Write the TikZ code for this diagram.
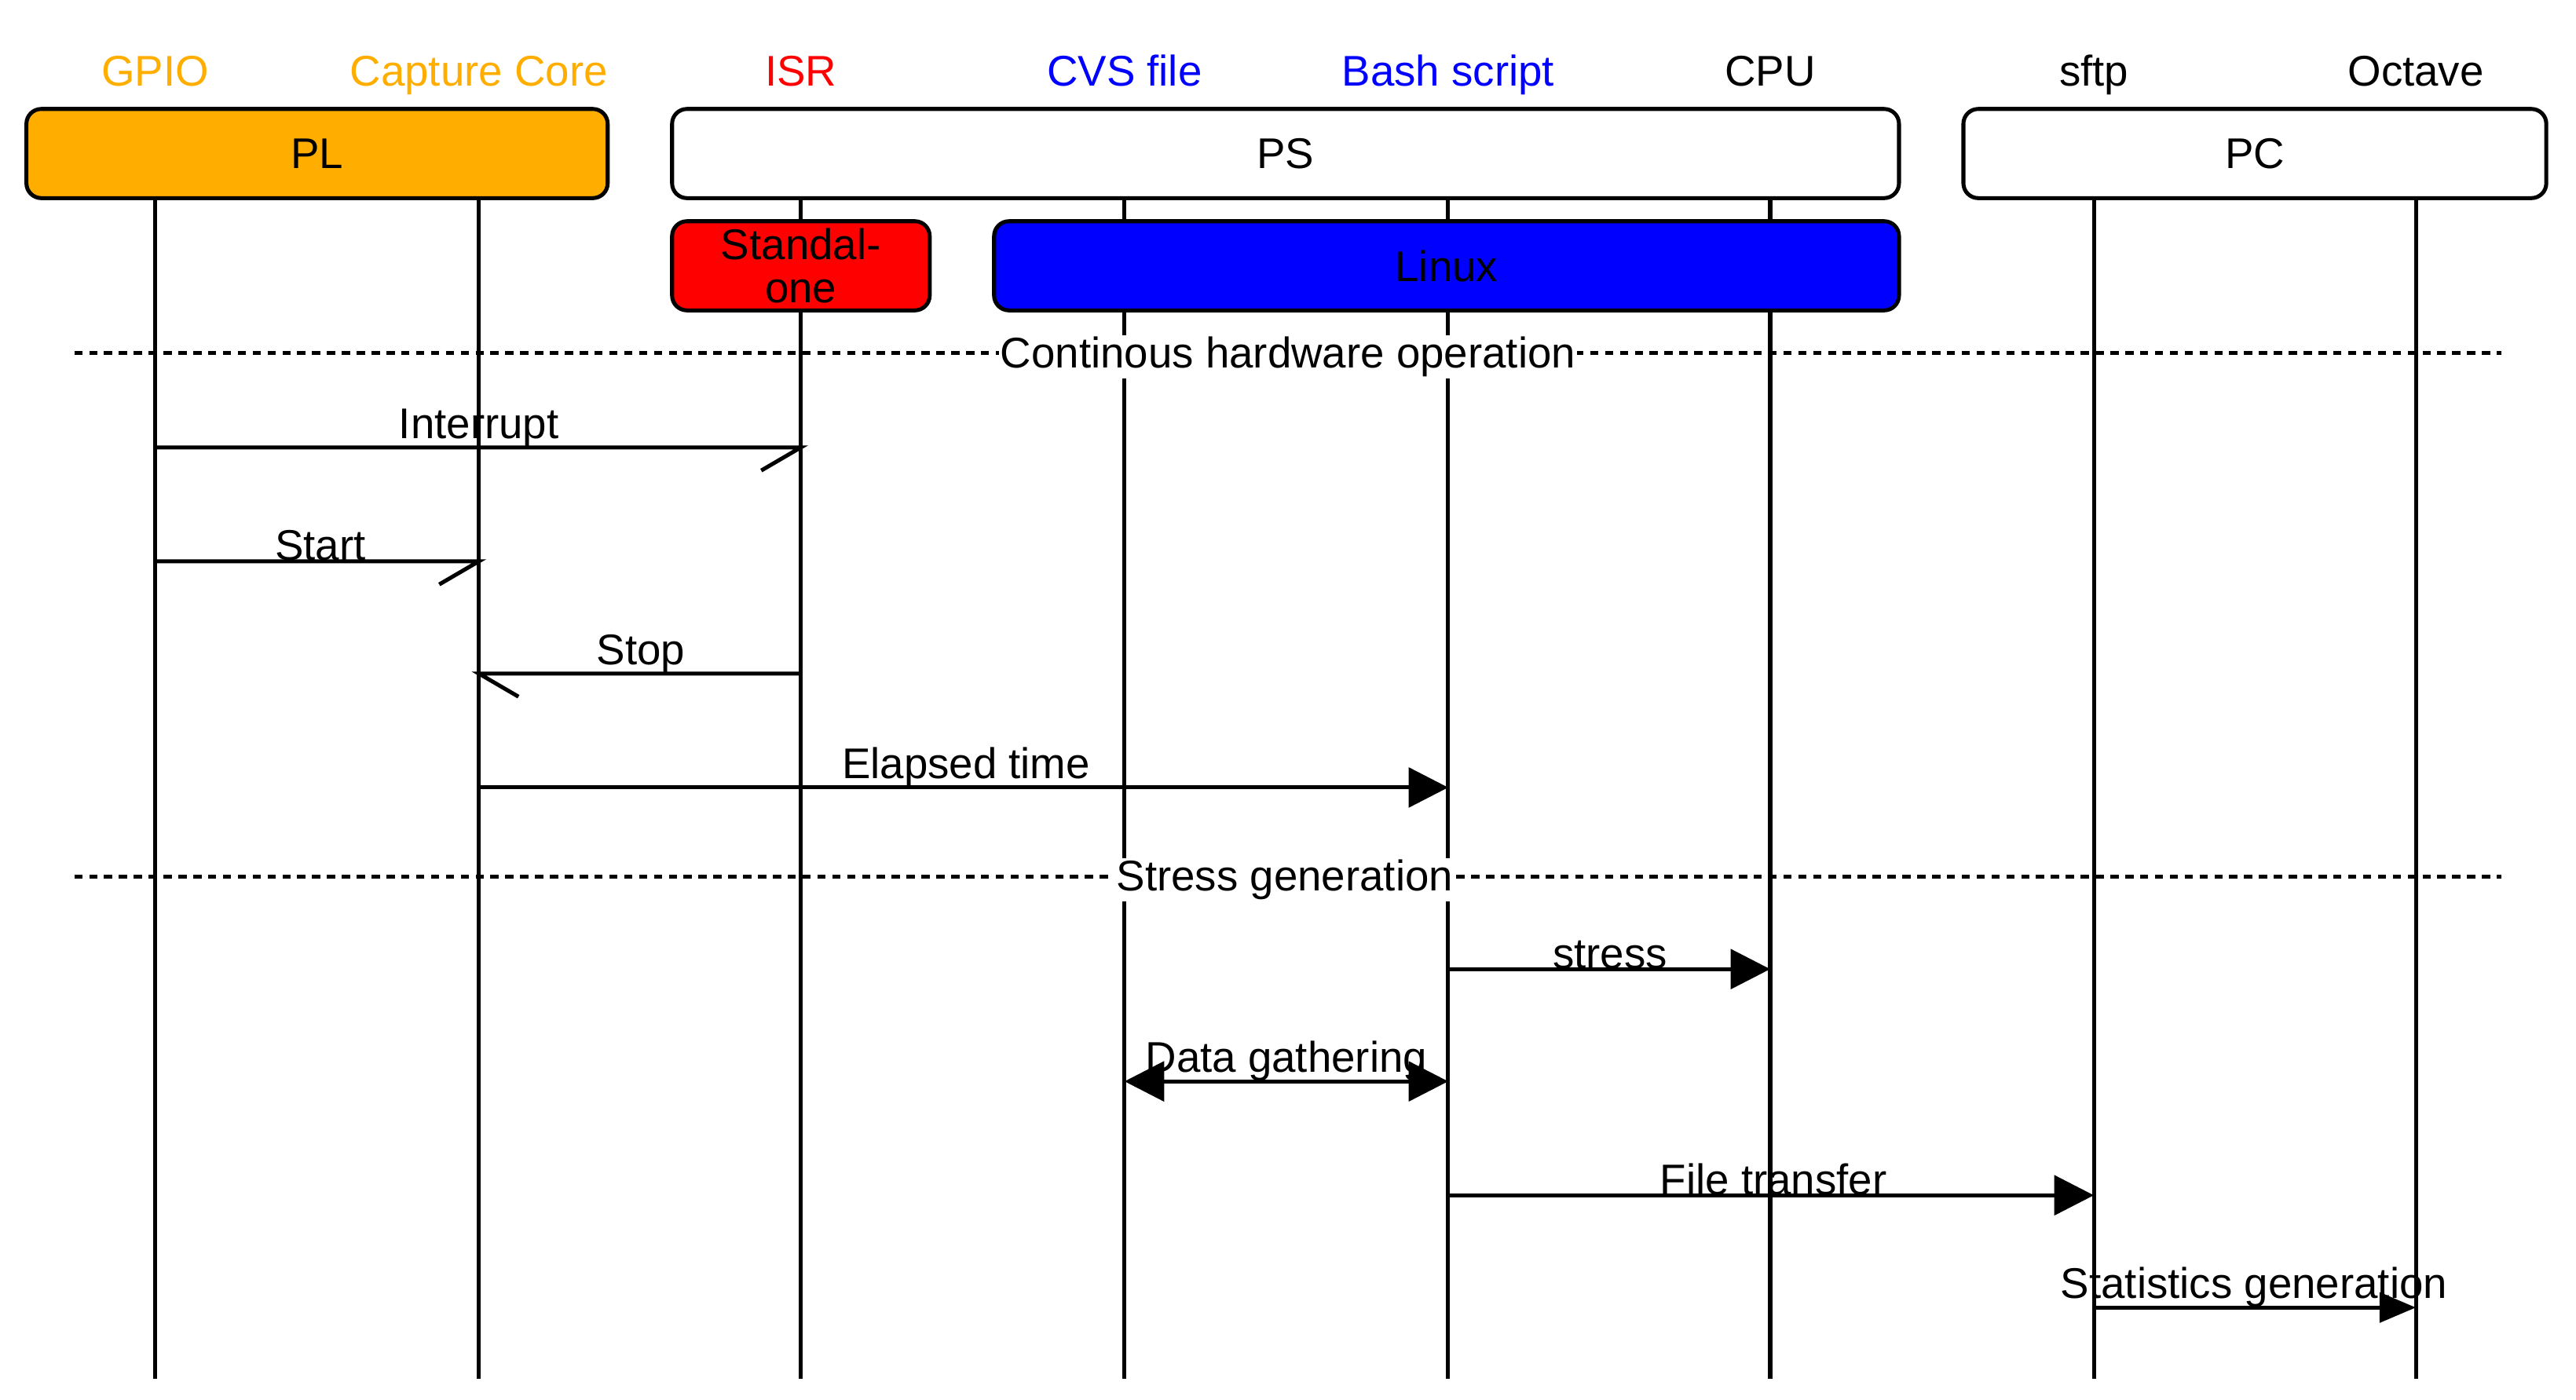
\documentclass[tikz,border=0pt]{standalone}
\usepackage{fontspec}
\setmainfont{Liberation Sans}
\usetikzlibrary{arrows.meta}
\definecolor{plorange}{RGB}{255,174,0}
\begin{document}
\begin{tikzpicture}[x=1pt,y=-1pt,line width=2.4pt,
  every node/.style={font=\fontsize{26}{28}\selectfont},
  grp/.style={draw,rounded corners=9pt,minimum height=54pt,inner sep=0pt},
  head/.style={anchor=base},
  life/.style={line width=2.4pt},
  sep/.style={dash pattern=on 5pt off 4pt, line width=2.4pt},
  seplab/.style={fill=white,inner sep=1pt},
  msg/.style={anchor=south,inner sep=1pt},
  tri/.style={-{Triangle[length=24pt,width=24pt]}},
  trib/.style={{Triangle[length=24pt,width=24pt]}-{Triangle[length=24pt,width=24pt]}},
  tris/.style={-{Triangle[length=22pt,width=18pt]}}]
\useasboundingbox (0,0) rectangle (1560,848);
% headers
\foreach \n/\x/\t/\c in {gp/94/GPIO/plorange,cc/290/Capture Core/plorange,isr/485/ISR/red,cvs/681/CVS file/blue,bash/877/Bash script/blue,cpu/1072/CPU/black,sftp/1268/sftp/black,oct/1463/Octave/black}{
  \node[head,text=\c] (h\n) at (\x,52) {\t};
  \coordinate (t\n) at (\x,120);
  \coordinate (b\n) at (\x,835);
  \draw[life] (t\n) -- (b\n);
}
% groups
\node[grp,fill=plorange,minimum width=352pt] (pl) at (192,93) {PL};
\node[grp,fill=white,minimum width=743pt] (ps) at (778.5,93) {PS};
\node[grp,fill=white,minimum width=353pt] (pc) at (1365.5,93) {PC};
\node[grp,fill=red,minimum width=156pt,align=center,font=\fontsize{26}{26}\selectfont] (sa) at (485,161) {Standal-\\one};
\node[grp,fill=blue,minimum width=548pt] (lx) at (876,161) {Linux};
% separators
\coordinate (s1l) at (45,214); \coordinate (s1r) at (1515,214);
\draw[sep] (s1l) -- (s1r);
\node[seplab] (s1) at (780,216) {Continous hardware operation};
\coordinate (s2l) at (45,531); \coordinate (s2r) at (1515,531);
\draw[sep] (s2l) -- (s2r);
\node[seplab] (s2) at (778,533) {Stress generation};
% messages
\coordinate (m1a) at (94,271); \coordinate (m1b) at (485,271);
\draw (m1a) -- (m1b) -- ++(-24,14);
\node[msg] (l1) at (290,273) {Interrupt};
\coordinate (m2a) at (94,340); \coordinate (m2b) at (290,340);
\draw (m2a) -- (m2b) -- ++(-24,14);
\node[msg] (l2) at (194,342) {Start};
\coordinate (m3a) at (485,408); \coordinate (m3b) at (290,408);
\draw (m3a) -- (m3b) -- ++(24,14);
\node[msg] (l3) at (388,410) {Stop};
\coordinate (m4a) at (290,477); \coordinate (m4b) at (877,477);
\draw[tri] (m4a) -- (m4b);
\node[msg] (l4) at (585,479) {Elapsed time};
\coordinate (m5a) at (877,587); \coordinate (m5b) at (1072,587);
\draw[tri] (m5a) -- (m5b);
\node[msg] (l5) at (975,589) {stress};
\coordinate (m6a) at (681,655); \coordinate (m6b) at (877,655);
\draw[trib] (m6a) -- (m6b);
\node[msg] (l6) at (779,657) {Data gathering};
\coordinate (m7a) at (877,724); \coordinate (m7b) at (1268,724);
\draw[tri] (m7a) -- (m7b);
\node[msg] (l7) at (1074,726) {File transfer};
\coordinate (m8a) at (1268,792); \coordinate (m8b) at (1463,792);
\draw[tris] (m8a) -- (m8b);
\node[msg] (l8) at (1365,794) {Statistics generation};
\end{tikzpicture}
\end{document}
